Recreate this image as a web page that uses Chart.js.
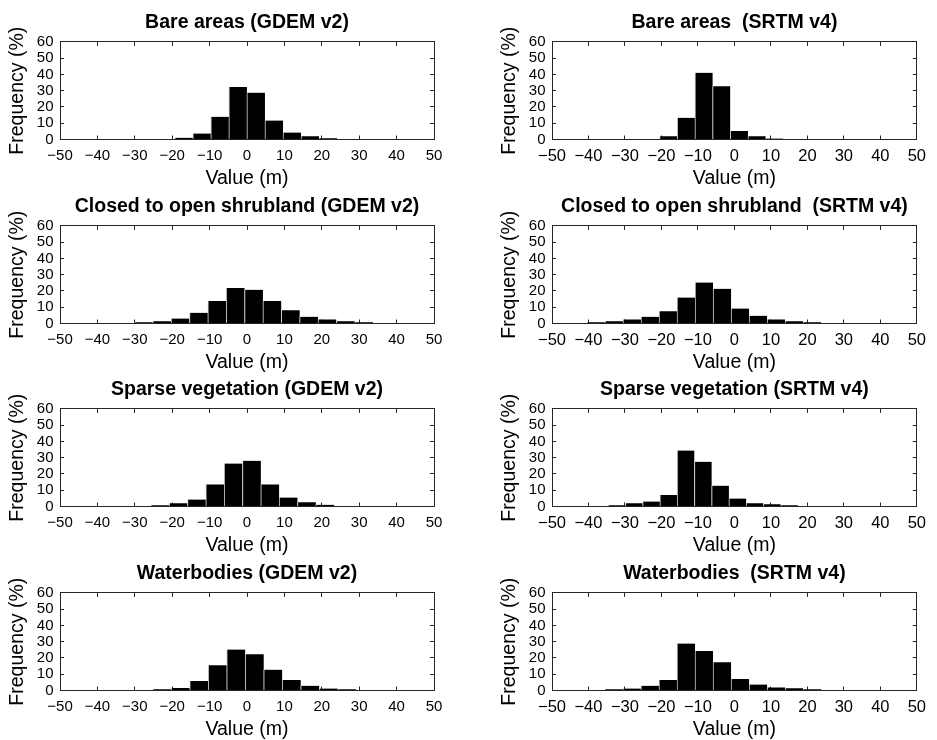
<!DOCTYPE html>
<html>
<head>
<meta charset="utf-8">
<title>Height error histograms</title>
<script src="https://cdn.jsdelivr.net/npm/chart.js@4.4.0/dist/chart.umd.min.js"></script>
<style>
  html, body { margin: 0; padding: 0; background: #fff; width: 937px; height: 740px; overflow: hidden; }
  canvas { position: absolute; }
</style>
</head>
<body>
<script>
// ── histogram data: bin centres (m) and frequency (%) ──
const gdemBareX = [-16.89, -12.07, -7.25, -2.43, 2.39, 7.22, 12.04, 16.86, 21.68];
const gdemBareY = [1.0, 3.7, 14.0, 32.2, 28.8, 11.7, 4.3, 2.0, 0.8];

const srtmBareX = [-18.08, -13.24, -8.39, -3.55, 1.29, 6.13, 10.98];
const srtmBareY = [2.0, 13.3, 41.0, 32.8, 5.3, 2.0, 0.6];

const gdemShrubX = [-27.65, -22.74, -17.83, -12.92, -8.01, -3.10, 1.81, 6.72, 11.63, 16.53, 21.44, 26.35, 31.25];
const gdemShrubY = [0.8, 1.4, 3.1, 6.6, 13.9, 21.9, 20.7, 13.9, 8.2, 4.1, 2.5, 1.4, 0.8];

const srtmShrubX = [-37.93, -32.99, -28.06, -23.12, -18.18, -13.25, -8.31, -3.37, 1.57, 6.50, 11.44, 16.38, 21.31];
const srtmShrubY = [0.8, 1.4, 2.5, 4.1, 7.6, 16.0, 25.2, 21.3, 9.2, 4.7, 2.5, 1.4, 0.8];

const gdemSparseX = [-23.25, -18.35, -13.45, -8.55, -3.65, 1.25, 6.15, 11.05, 15.95, 20.85];
const gdemSparseY = [0.8, 2.0, 4.3, 13.6, 26.4, 28.1, 13.6, 5.5, 2.6, 1.0];

const srtmSparseX = [-32.24, -27.51, -22.78, -18.05, -13.33, -8.60, -3.87, 0.86, 5.58, 10.31, 15.04];
const srtmSparseY = [0.8, 2.0, 3.1, 7.1, 34.4, 27.5, 12.8, 4.9, 2.0, 1.4, 0.8];

const gdemWaterX = [-22.73, -17.78, -12.83, -7.89, -2.94, 2.00, 6.95, 11.89, 16.84, 21.78, 26.73];
const gdemWaterY = [0.8, 1.6, 5.8, 15.5, 25.2, 22.3, 12.8, 6.4, 2.9, 1.2, 0.8];

const srtmWaterX = [-33.03, -28.09, -23.15, -18.20, -13.26, -8.32, -3.38, 1.56, 6.51, 11.45, 16.39, 21.33];
const srtmWaterY = [0.8, 1.2, 2.9, 6.4, 28.9, 24.3, 17.3, 7.0, 3.7, 1.9, 1.4, 0.8];

const xTickValues = [-50, -40, -30, -20, -10, 0, 10, 20, 30, 40, 50];
const yTickValues = [0, 10, 20, 30, 40, 50, 60];

const panels = [
  { title: 'Bare areas (GDEM v2)', x: gdemBareX, y: gdemBareY, col: 0, row: 0 },
  { title: 'Bare areas  (SRTM v4)', x: srtmBareX, y: srtmBareY, col: 1, row: 0 },
  { title: 'Closed to open shrubland (GDEM v2)', x: gdemShrubX, y: gdemShrubY, col: 0, row: 1 },
  { title: 'Closed to open shrubland  (SRTM v4)', x: srtmShrubX, y: srtmShrubY, col: 1, row: 1 },
  { title: 'Sparse vegetation (GDEM v2)', x: gdemSparseX, y: gdemSparseY, col: 0, row: 2 },
  { title: 'Sparse vegetation (SRTM v4)', x: srtmSparseX, y: srtmSparseY, col: 1, row: 2 },
  { title: 'Waterbodies (GDEM v2)', x: gdemWaterX, y: gdemWaterY, col: 0, row: 3 },
  { title: 'Waterbodies  (SRTM v4)', x: srtmWaterX, y: srtmWaterY, col: 1, row: 3 }
];

// ── look ──
const FONT = "'Liberation Sans', Arial, Helvetica, sans-serif";
const INK = '#000';
const FRAME = '#262626';
// right-hand column was exported a little wider, its x tick text is stretched
const COLS = [
  { left: 0, width: 460, padRight: 26, xTickSize: 15 },
  { left: 492, width: 445, padRight: 12, xTickSize: 16.5 }
];
const ROW_TOPS = [0, 184, 367, 551];
const CANVAS_H = 190;

const minus = v => (v < 0 ? '\u2212' + Math.abs(v) : String(v));

function frameAxis(position, tickValues) {
  const horizontal = position === 'top' || position === 'bottom';
  return {
    type: 'linear',
    position,
    min: horizontal ? -50 : 0,
    max: horizontal ? 50 : 60,
    offset: false,
    afterBuildTicks: s => { s.ticks = tickValues.map(v => ({ value: v })); },
    grid: { offset: false, drawOnChartArea: false, drawTicks: true, tickLength: -4, color: FRAME, lineWidth: 1 },
    border: { display: true, color: FRAME, width: 1 },
    ticks: { display: false }
  };
}

function renderHistogram(panel) {
  const col = COLS[panel.col];
  const canvas = document.createElement('canvas');
  canvas.width = col.width;
  canvas.height = CANVAS_H;
  canvas.style.left = col.left + 'px';
  canvas.style.top = ROW_TOPS[panel.row] + 'px';
  document.body.appendChild(canvas);

  const points = panel.x.map((c, i) => ({ x: c, y: panel.y[i] }));

  const xAxis = frameAxis('bottom', xTickValues);
  xAxis.afterFit = s => { s.height = 50.5; };
  xAxis.ticks = {
    display: true, autoSkip: false, maxRotation: 0, padding: 11,
    color: INK, font: { family: FONT, size: col.xTickSize }, callback: v => minus(v)
  };
  xAxis.title = {
    display: true, text: 'Value (m)', color: INK,
    font: { family: FONT, size: 19.5 }, padding: { top: 0, bottom: 0 }
  };

  const yAxis = frameAxis('left', yTickValues);
  yAxis.afterFit = s => { s.width = 60; };
  yAxis.ticks = {
    display: true, autoSkip: false, padding: 10.5,
    color: INK, font: { family: FONT, size: 15 }, callback: v => String(v)
  };
  yAxis.title = {
    display: true, text: 'Frequency (%)', color: INK,
    font: { family: FONT, size: 19.5 }, padding: { top: 6, bottom: 0 }
  };

  const xTop = frameAxis('top', xTickValues);
  xTop.afterFit = s => { s.height = 0; };
  const yRight = frameAxis('right', yTickValues);
  yRight.afterFit = s => { s.width = 0; };

  return new Chart(canvas.getContext('2d'), {
    type: 'bar',
    data: {
      datasets: [{
        data: points,
        backgroundColor: INK,
        borderColor: '#c8c8c8',
        borderWidth: { left: 1, right: 0, top: 0, bottom: 0 },
        borderSkipped: false,
        categoryPercentage: 1,
        barPercentage: 1
      }]
    },
    options: {
      responsive: false,
      animation: false,
      events: [],
      layout: { padding: { left: 0, right: col.padRight, top: 0, bottom: 0 } },
      plugins: {
        legend: { display: false },
        tooltip: { enabled: false },
        title: {
          display: true, fullSize: false, text: panel.title, color: INK,
          font: { family: FONT, size: 19.5, weight: 'bold', lineHeight: 1.2 },
          padding: { top: 11, bottom: 7.5 }
        }
      },
      scales: { x: xAxis, y: yAxis, xTop, yRight }
    }
  });
}

panels.forEach(renderHistogram);
</script>
</body>
</html>
